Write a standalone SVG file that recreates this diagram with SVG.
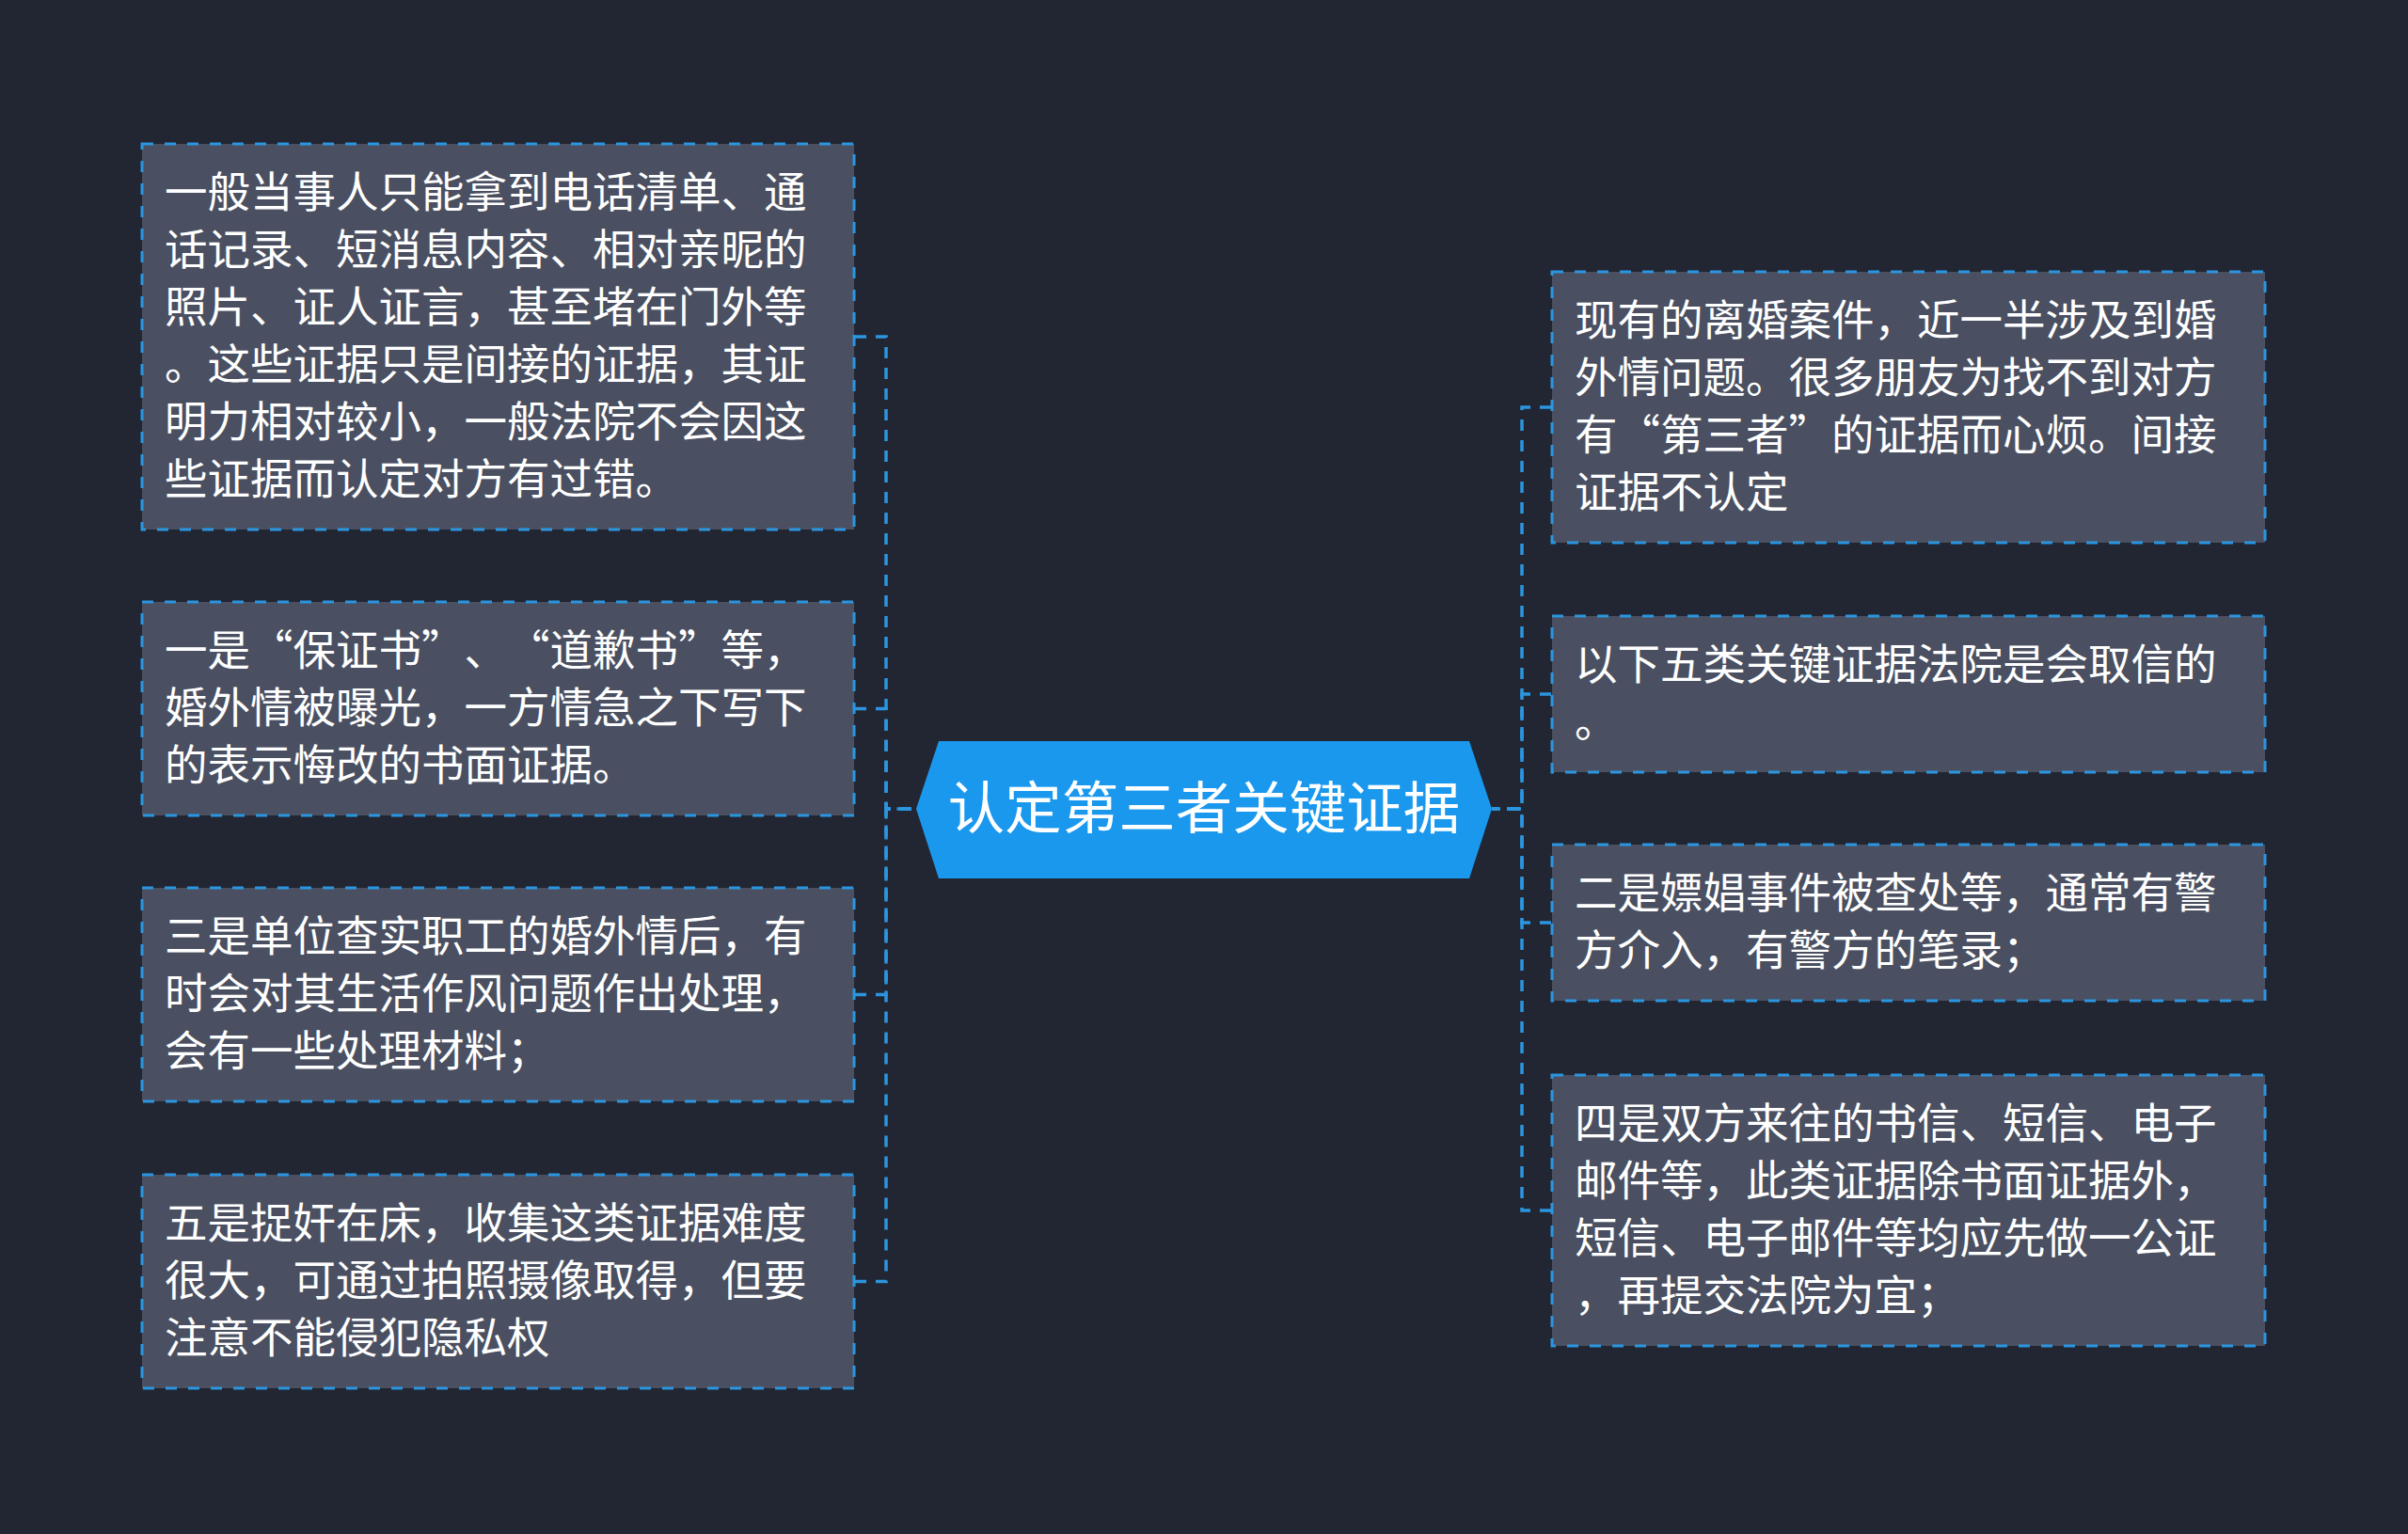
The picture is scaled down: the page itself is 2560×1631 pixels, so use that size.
<svg xmlns="http://www.w3.org/2000/svg" width="2560" height="1631" viewBox="0 0 2560 1631">
<style>
.bg{fill:#222632}
.box{fill:#4a5061;stroke:#2b95e0;stroke-width:3;stroke-dasharray:12 12}
.t{fill:#ffffff;font-family:"Noto Sans CJK SC","Noto Sans",sans-serif;font-size:45.5px;text-spacing-trim:space-all}
.hub{fill:#1a98ee}
.ht{fill:#ffffff;font-family:"Noto Sans CJK SC","Noto Sans",sans-serif;font-size:60.5px;text-anchor:middle}
.c{fill:none;stroke:#2b95e0;stroke-width:3.5;stroke-dasharray:12 10}
</style>
<rect class="bg" x="0" y="0" width="2560" height="1631"/>
<g id="connectors">
<path class="c" d="M909 358 H942 V860 H974"/>
<path class="c" d="M909 753.5 H942 V860 H974"/>
<path class="c" d="M909 1057.5 H942 V860 H974"/>
<path class="c" d="M909 1362.5 H942 V860 H974"/>
<path class="c" d="M1649 433 H1618 V860 H1586"/>
<path class="c" d="M1649 738 H1618 V860 H1586"/>
<path class="c" d="M1649 981 H1618 V860 H1586"/>
<path class="c" d="M1649 1287 H1618 V860 H1586"/>
</g>
<g id="hub">
<polygon class="hub" points="974,860 998,788 1562,788 1586,860 1562,934 998,934"/>
<text class="ht" x="1280" y="881">认定第三者关键证据</text>
</g>
<g id="node-l1">
<rect class="box" x="151" y="153" width="757" height="410"/>
<text class="t"><tspan x="175" y="221">一般当事人只能拿到电话清单、通</tspan><tspan x="175" y="282">话记录、短消息内容、相对亲昵的</tspan><tspan x="175" y="343">照片、证人证言，甚至堵在门外等</tspan><tspan x="175" y="404">。这些证据只是间接的证据，其证</tspan><tspan x="175" y="465">明力相对较小，一般法院不会因这</tspan><tspan x="175" y="526">些证据而认定对方有过错。</tspan></text>
</g>
<g id="node-l2">
<rect class="box" x="151" y="640" width="757" height="227"/>
<text class="t"><tspan x="175" y="708">一是“保证书”、“道歉书”等，</tspan><tspan x="175" y="769">婚外情被曝光，一方情急之下写下</tspan><tspan x="175" y="830">的表示悔改的书面证据。</tspan></text>
</g>
<g id="node-l3">
<rect class="box" x="151" y="944" width="757" height="227"/>
<text class="t"><tspan x="175" y="1012">三是单位查实职工的婚外情后，有</tspan><tspan x="175" y="1073">时会对其生活作风问题作出处理，</tspan><tspan x="175" y="1134">会有一些处理材料；</tspan></text>
</g>
<g id="node-l4">
<rect class="box" x="151" y="1249" width="757" height="227"/>
<text class="t"><tspan x="175" y="1317">五是捉奸在床，收集这类证据难度</tspan><tspan x="175" y="1378">很大，可通过拍照摄像取得，但要</tspan><tspan x="175" y="1439">注意不能侵犯隐私权</tspan></text>
</g>
<g id="node-r1">
<rect class="box" x="1650" y="289" width="758" height="288"/>
<text class="t"><tspan x="1674" y="357">现有的离婚案件，近一半涉及到婚</tspan><tspan x="1674" y="418">外情问题。很多朋友为找不到对方</tspan><tspan x="1674" y="479">有“第三者”的证据而心烦。间接</tspan><tspan x="1674" y="540">证据不认定</tspan></text>
</g>
<g id="node-r2">
<rect class="box" x="1650" y="655" width="758" height="166"/>
<text class="t"><tspan x="1674" y="723">以下五类关键证据法院是会取信的</tspan><tspan x="1674" y="784">。</tspan></text>
</g>
<g id="node-r3">
<rect class="box" x="1650" y="898" width="758" height="166"/>
<text class="t"><tspan x="1674" y="966">二是嫖娼事件被查处等，通常有警</tspan><tspan x="1674" y="1027">方介入，有警方的笔录；</tspan></text>
</g>
<g id="node-r4">
<rect class="box" x="1650" y="1143" width="758" height="288"/>
<text class="t"><tspan x="1674" y="1211">四是双方来往的书信、短信、电子</tspan><tspan x="1674" y="1272">邮件等，此类证据除书面证据外，</tspan><tspan x="1674" y="1333">短信、电子邮件等均应先做一公证</tspan><tspan x="1674" y="1394">，再提交法院为宜；</tspan></text>
</g>
</svg>
